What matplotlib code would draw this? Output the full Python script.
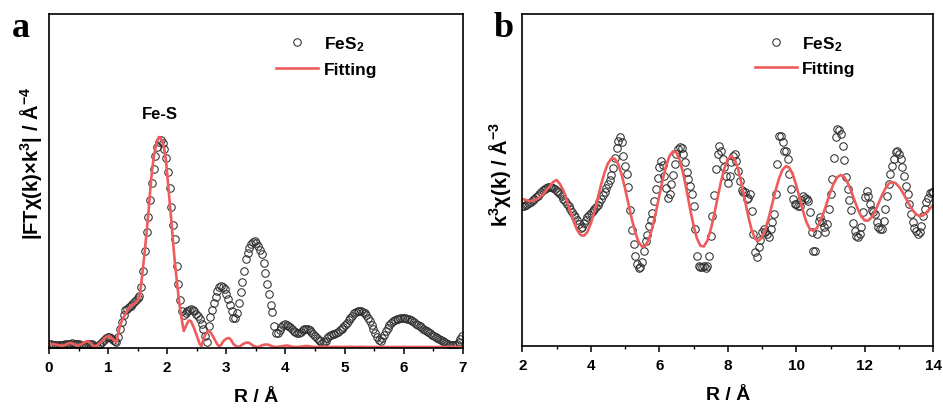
import numpy as np
import matplotlib
matplotlib.use("Agg")
import matplotlib.pyplot as plt
from matplotlib.ticker import MultipleLocator

plt.rcParams["font.family"] = "Liberation Sans"
plt.rcParams["font.weight"] = "bold"
plt.rcParams["axes.labelweight"] = "bold"
plt.rcParams["mathtext.fontset"] = "custom"
plt.rcParams["mathtext.rm"] = "Liberation Sans:bold"
plt.rcParams["mathtext.it"] = "Liberation Sans:bold"
plt.rcParams["mathtext.bf"] = "Liberation Sans:bold"
plt.rcParams["mathtext.default"] = "rm"

# --- (a) Fourier transform magnitude, R step 0.03 A ---
R_STEP = 0.03
ft_data = [
    0.40, 0.37, 0.34, 0.31, 0.30, 0.30, 0.30, 0.31, 0.34, 0.37,
    0.40, 0.42, 0.43, 0.45, 0.43, 0.40, 0.37, 0.35, 0.33, 0.31,
    0.30, 0.33, 0.36, 0.39, 0.36, 0.30, 0.24, 0.22, 0.30, 0.38,
    0.57, 0.83, 1.02, 1.09, 1.06, 1.00, 0.82, 0.68, 0.62, 1.10,
    1.90, 2.60, 3.26, 3.76, 3.93, 4.10, 4.24, 4.40, 4.55, 4.75,
    5.00, 5.20, 6.10, 7.70, 9.70, 11.6, 13.1, 14.8, 16.5, 17.9,
    19.2, 20.1, 20.6, 20.8, 20.5, 19.9, 19.0, 17.6, 16.0, 14.1,
    12.3, 10.9, 8.2, 6.4, 4.8, 3.7, 3.3, 3.45, 3.65, 3.8,
    3.88, 3.8, 3.65, 3.4, 3.15, 2.9, 2.4, 1.9, 1.15, 0.6,
    2.2, 3.1, 3.8, 4.5, 5.1, 5.7, 6.05, 6.2, 6.1, 5.9,
    5.4, 4.9, 4.3, 3.7, 3.0, 3.0, 3.5, 4.5, 5.6, 6.6,
    7.7, 8.9, 9.5, 10.0, 10.4, 10.6, 10.7, 10.45, 10.2, 9.8,
    9.4, 8.5, 7.5, 6.4, 5.4, 4.3, 3.6, 2.2, 1.45, 1.5,
    1.8, 2.05, 2.25, 2.4, 2.3, 2.2, 2.05, 1.9, 1.7, 1.57,
    1.45, 1.45, 1.6, 1.75, 1.87, 1.9, 1.9, 1.75, 1.55, 1.4,
    1.2, 1.0, 0.8, 0.65, 0.5, 0.55, 0.7, 0.95, 1.15, 1.25,
    1.35, 1.42, 1.5, 1.58, 1.75, 1.9, 2.1, 2.3, 2.5, 2.75,
    3.0, 3.2, 3.45, 3.6, 3.7, 3.7, 3.65, 3.55, 3.45, 3.3,
    3.0, 2.65, 2.25, 1.9, 1.5, 1.1, 0.75, 0.7, 1.0, 1.3,
    1.7, 2.0, 2.25, 2.45, 2.65, 2.75, 2.85, 2.92, 2.97, 3.0,
    3.0, 2.98, 2.93, 2.85, 2.76, 2.66, 2.55, 2.43, 2.3, 2.18,
    2.06, 1.94, 1.82, 1.7, 1.58, 1.46, 1.33, 1.2, 1.08, 0.96,
    0.85, 0.75, 0.65, 0.55, 0.45, 0.35, 0.28, 0.25, 0.28, 0.33,
    0.40, 0.55, 0.85, 1.20,
]
ft_fit = [
    0.33, 0.38, 0.40, 0.38, 0.34, 0.30, 0.26, 0.24, 0.24, 0.30,
    0.39, 0.47, 0.50, 0.46, 0.38, 0.30, 0.24, 0.25, 0.35, 0.48,
    0.59, 0.65, 0.67, 0.55, 0.38, 0.20, 0.14, 0.26, 0.44, 0.56,
    0.70, 0.90, 1.08, 1.19, 1.15, 1.03, 0.90, 0.72, 0.57, 1.45,
    2.2, 2.7, 3.05, 3.35, 3.7, 4.0, 4.2, 4.3, 4.4, 4.55,
    4.8, 5.07, 6.4, 8.0, 9.7, 11.5, 13.4, 15.6, 17.6, 19.0,
    20.0, 20.7, 21.1, 21.0, 20.6, 19.9, 18.7, 16.7, 14.7, 12.7,
    10.5, 8.5, 6.8, 5.2, 3.8, 2.7, 1.7, 2.1, 2.5, 2.75,
    2.7, 2.3, 1.9, 1.4, 0.9, 0.4, 0.2, 0.8, 1.3, 1.55,
    1.7, 1.6, 1.3, 1.0, 0.65, 0.35, 0.15, 0.3, 0.6, 0.8,
    0.92, 1.0, 0.95, 0.7, 0.4, 0.25, 0.15, 0.1, 0.2, 0.35,
    0.45, 0.52, 0.55, 0.5, 0.38, 0.24, 0.15, 0.11, 0.1, 0.18,
    0.26, 0.31, 0.34, 0.35, 0.31, 0.24, 0.16, 0.12, 0.1, 0.11,
    0.14, 0.18, 0.21, 0.24, 0.25, 0.23, 0.18, 0.13, 0.11, 0.10,
    0.10, 0.12, 0.14, 0.16, 0.18, 0.20, 0.19, 0.16, 0.13, 0.11,
    0.10, 0.10, 0.11, 0.12, 0.13, 0.13, 0.12, 0.11, 0.10, 0.10,
    0.11, 0.12, 0.12, 0.12, 0.11, 0.10, 0.10, 0.11, 0.12, 0.12,
    0.12, 0.11, 0.10, 0.10, 0.11, 0.11, 0.12, 0.11, 0.10, 0.10,
    0.10, 0.11, 0.11, 0.11, 0.10, 0.10, 0.10, 0.11, 0.11, 0.10,
    0.10, 0.10, 0.11, 0.11, 0.10, 0.10, 0.10, 0.10, 0.11, 0.10,
    0.10, 0.10, 0.10, 0.11, 0.10, 0.10, 0.10, 0.10, 0.10, 0.10,
    0.10, 0.10, 0.10, 0.10, 0.10, 0.10, 0.10, 0.10, 0.10, 0.10,
    0.10, 0.10, 0.10, 0.10, 0.10, 0.10, 0.10, 0.10, 0.10, 0.10,
    0.10, 0.10, 0.10, 0.10,
]

# --- (b) k3-weighted chi(k) ---
K_START = 2.0
K_STEP_DATA = 0.05
K_STEP_FIT = 0.1
chi_data = [
    -0.2, -0.2, -0.1, 0.0, 0.1, 0.2, 0.35, 0.5, 0.65, 0.8,
    1.0, 1.2, 1.35, 1.5, 1.6, 1.65, 1.7, 1.7, 1.6, 1.45,
    1.3, 1.15, 0.95, 0.75, 0.5, 0.25, 0.0, -0.25, -0.55, -0.85,
    -1.1, -1.35, -1.65, -2.0, -2.4, -2.3, -1.9, -1.6, -1.35, -1.1,
    -0.9, -0.75, -0.55, -0.35, -0.1, 0.2, 0.5, 0.85, 1.2, 1.6,
    2.0, 2.4, 2.9, 3.6, 4.6, 5.6, 6.3, 6.7, 6.2, 4.8,
    3.8, 3.0, 1.7, -0.6, -2.6, -4.0, -5.2, -6.0, -6.4, -6.3,
    -5.8, -4.7, -3.7, -3.1, -2.2, -1.6, -0.9, 0.3, 1.5, 2.6,
    3.7, 4.3, 3.9, 2.8, 1.6, 0.6, 1.0, 2.0, 2.9, 4.0,
    5.0, 5.5, 5.7, 5.6, 5.0, 4.2, 3.2, 2.5, 1.8, 1.0,
    -0.2, -2.5, -5.2, -6.2, -6.3, -6.3, -6.2, -6.4, -6.2, -5.2,
    -3.2, -1.2, 0.9, 3.5, 5.0, 5.8, 5.3, 4.5, 3.7, 2.8,
    2.1, 2.8, 4.2, 4.8, 5.0, 4.3, 3.3, 2.3, 1.4, 1.2,
    1.2, 0.5, 0.6, 1.0, -0.7, -3.0, -4.8, -5.3, -4.3, -3.6,
    -2.8, -2.5, -2.8, -3.0, -3.3, -2.5, -1.8, -1.0, 1.0, 4.0,
    6.8, 6.8, 6.2, 5.3, 5.3, 4.5, 3.0, 1.5, 0.5, 0.0,
    0.0, -0.2, -0.2, 0.4, 0.8, 0.6, 0.5, 0.3, -0.8, -2.8,
    -4.7, -4.7, -3.0, -1.7, -1.3, -1.8, -2.3, -2.8, -2.0, -0.5,
    1.0, 2.5, 4.6, 6.7, 7.5, 7.4, 7.0, 5.8, 4.4, 2.7,
    1.5, 0.4, -0.6, -1.9, -2.7, -3.2, -3.3, -3.0, -2.3, -0.8,
    0.7, 1.3, 0.8, 0.0, -0.6, -0.8, -1.0, -1.8, -2.3, -2.5,
    -2.5, -1.7, -0.5, 0.8, 2.0, 3.0, 3.8, 4.5, 5.2, 5.3,
    5.0, 4.5, 3.7, 2.8, 1.8, 1.0, 0.0, -1.0, -1.8, -2.4,
    -2.7, -3.0, -2.8, -2.2, -1.2, -0.5, 0.2, 0.6, 1.1, 1.2,
    1.2,
]
chi_fit = [
    0.5, 0.4, 0.3, 0.3, 0.45, 0.65, 0.95, 1.35, 1.8, 2.2,
    2.4, 2.0, 1.35, 0.35, -0.75, -1.75, -2.6, -3.1, -3.18, -2.79,
    -1.96, -0.79, 0.56, 1.93, 3.14, 4.06, 4.54, 4.53, 3.98, 2.94,
    1.55, -0.01, -1.55, -2.88, -3.83, -4.27, -4.16, -3.48, -2.32, -0.82,
    0.84, 2.46, 3.84, 4.82, 5.27, 5.13, 4.34, 3.0, 1.32, -0.5,
    -2.16, -3.45, -4.18, -4.25, -3.69, -2.59, -1.09, 0.59, 2.22, 3.58,
    4.48, 4.8, 4.46, 3.5, 2.06, 0.38, -1.28, -2.64, -3.49, -3.69,
    -3.33, -2.5, -1.32, 0.05, 1.42, 2.6, 3.43, 3.79, 3.62, 2.94,
    1.85, 0.55, -0.75, -1.84, -2.53, -2.69, -2.41, -1.76, -0.85, 0.2,
    1.25, 2.12, 2.7, 2.9, 2.7, 2.14, 1.31, 0.36, -0.55, -1.26,
    -1.65, -1.66, -1.33, -0.73, 0.05, 0.85, 1.56, 2.03, 2.2, 2.08,
    1.72, 1.2, 0.56, -0.07, -0.63, -1.03, -1.2, -1.15, -0.85, -0.45,
    -0.1,
]

r_data = np.arange(len(ft_data)) * R_STEP
r_fit = np.arange(len(ft_fit)) * R_STEP
k_data = K_START + np.arange(len(chi_data)) * K_STEP_DATA
k_fit = K_START + np.arange(len(chi_fit)) * K_STEP_FIT

RED = "#ee5c5c"
marker_style = dict(ls="none", marker="o", mfc="none", mec="#2e2e2e", ms=5.4, mew=0.75)

fig = plt.figure(figsize=(9.43, 4.10), dpi=100)
ax1 = fig.add_axes([0.052, 0.1488, 0.4387, 0.8146])
ax2 = fig.add_axes([0.5539, 0.1537, 0.4358, 0.8097])

ax1.plot(r_data, ft_data, label="FeS$_2$", **marker_style)
ax1.plot(r_fit, ft_fit, color=RED, lw=1.9, label="Fitting")
ax1.set_xlim(0, 7)
ax1.set_ylim(0, 33.4)
ax1.xaxis.set_major_locator(MultipleLocator(1))
ax1.xaxis.set_minor_locator(MultipleLocator(0.5))
ax1.text(1.88, 23.5, "Fe-S", ha="center", va="center", fontsize=12, fontweight="bold")
ax1.set_ylabel("|FT\u03c7(k)\u00d7k$^{3}$| / \u00c5$^{-4}$", fontsize=14.5, fontweight="bold")
ax1.yaxis.set_label_coords(-0.012, 0.555)

ax2.plot(k_data, chi_data, label="FeS$_2$", **marker_style)
ax2.plot(k_fit, chi_fit, color=RED, lw=1.9, label="Fitting")
ax2.set_xlim(2, 14)
ax2.set_ylim(-14.2, 19.0)
ax2.xaxis.set_major_locator(MultipleLocator(2))
ax2.xaxis.set_minor_locator(MultipleLocator(1))
ax2.set_ylabel("k$^{3}$\u03c7(k) / \u00c5$^{-3}$", fontsize=14.5, fontweight="bold")
ax2.yaxis.set_label_coords(-0.022, 0.52)

for ax, lx in ((ax1, 0.549), (ax2, 0.566)):
    ax.set_yticks([])
    ax.set_xlabel("R / \u00c5", fontsize=14, fontweight="bold", labelpad=10)
    ax.tick_params(axis="x", which="major", direction="out", length=4, width=1.1,
                   labelsize=11, pad=5)
    ax.tick_params(axis="x", which="minor", direction="out", length=2.5, width=1.0)
    for sp in ax.spines.values():
        sp.set_linewidth(1.2)
    ax.legend(loc="upper left", bbox_to_anchor=(lx, 0.94), frameon=False,
              fontsize=12.5, handlelength=2.4, handletextpad=0.33,
              labelspacing=0.5, borderpad=0, borderaxespad=0)

fig.text(12 / 943, 1 - 37 / 410, "a", family="Liberation Serif", weight="bold",
         fontsize=26, va="baseline")
fig.text(494 / 943, 1 - 37 / 410, "b", family="Liberation Serif", weight="bold",
         fontsize=26, va="baseline")

fig.savefig("out.png", dpi=100)
